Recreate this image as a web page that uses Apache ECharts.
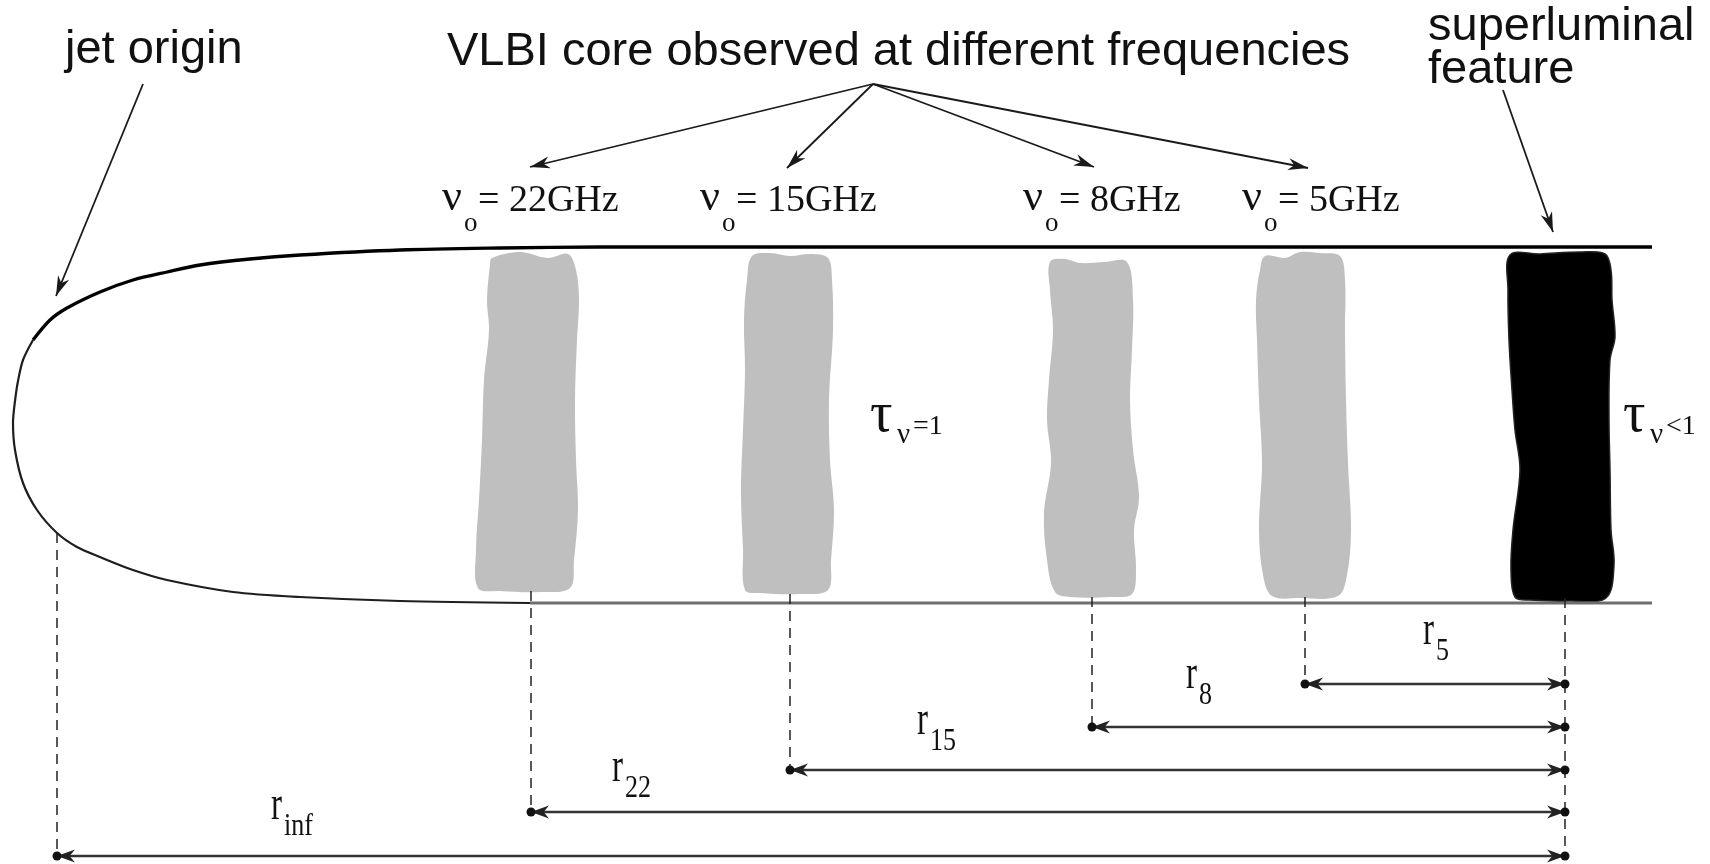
<!DOCTYPE html>
<html><head><meta charset="utf-8">
<script src="https://cdn.jsdelivr.net/npm/echarts@6/dist/echarts.min.js"></script>
<style>html,body{margin:0;padding:0;background:#fff;}#c{width:1710px;height:864px;}</style>
</head><body><div id="c"></div>
<script>
// ---------------- diagram data (diagram units = picture units) ----------------
const titleText = 'VLBI core observed at different frequencies';
const originText = 'jet origin';
const superText = ['superluminal', 'feature'];
const frequencies = ['22GHz', '15GHz', '8GHz', '5GHz'];
const coreX = [531, 790, 1092, 1305];          // VLBI core positions along the jet
const coreBottom = [591, 594, 597, 597];
const superX = 1565;                            // superluminal feature position
const superBottom = 598;
const originX = 57;                             // jet origin position
const originBottom = 533;
const distanceSub = ['5', '8', '15', '22', 'inf'];
const distanceFromX = [1305, 1092, 790, 531, 57];
const distanceRowY = [684, 727, 770, 812, 856];
const opacityLabels = ['=1', '<1'];
const opacityLabelX = [870, 1623];

// jet boundary
const jetNose = [[33,340],[23,360],[18,381],[15,401],[13,423],[15,450],[23,483],[37,510],[57,533],[77,547],[100,557],[133,570],[167,580],[233,592],[300,597],[400,601],[530,603]];
const jetTop = [[33,340],[50,320],[67,308],[100,292],[133,280],[167,272],[200,265],[250,259],[300,255],[400,250],[500,248],[600,247],[1652,247]];
const jetBottomStraight = [[530,603],[1652,603]];

// emission regions (outlines)
const blob22 = [[492,258],[520,252],[548,258],[568,254],[576,270],[579,300],[577,340],[575,400],[576,460],[578,510],[574,560],[570,588],[540,592],[500,591],[478,588],[476,550],[479,500],[482,440],[484,380],[489,330],[487,300],[490,265]];
const blob15 = [[752,256],[770,253],[790,256],[810,254],[828,258],[832,280],[833,330],[829,400],[830,460],[834,510],[831,560],[828,590],[800,594],[760,593],[745,590],[743,550],[741,490],[743,430],[745,370],[744,320],[747,280]];
const blob8 = [[1050,262],[1065,259],[1080,263],[1105,262],[1127,262],[1133,300],[1132,350],[1130,400],[1133,450],[1139,497],[1134,530],[1136,570],[1132,594],[1110,597],[1070,597],[1055,592],[1047,560],[1044,513],[1051,463],[1047,420],[1049,380],[1053,330],[1050,290]];
const blob5 = [[1265,256],[1285,258],[1300,252],[1320,253],[1340,256],[1345,280],[1345,330],[1346,400],[1348,463],[1351,530],[1347,575],[1338,596],[1300,598],[1272,596],[1263,575],[1259,530],[1262,463],[1259,400],[1257,340],[1256,300],[1260,270]];
const blobSuper = [[1510,255],[1540,254],[1580,252],[1605,254],[1611,270],[1612,300],[1615,337],[1610,360],[1609,420],[1610,470],[1611,530],[1614,565],[1606,598],[1570,601],[1530,600],[1515,597],[1511,570],[1513,530],[1520,470],[1515,430],[1512,390],[1509,340],[1508,290]];

// pointer arrows
const titlePointerFrom = [873, 84];
const freqPointerTo = [[530,167],[787,168],[1094,167],[1308,168]];
const originPointer = [[143,84],[56,296]];
const superPointer = [[1503,90],[1553,232]];

// ---------------- layout / style ----------------
const SANS = '"Liberation Sans", Arial, Helvetica, sans-serif';
const SERIF = '"Liberation Serif", "Times New Roman", Times, serif';
const BLOBS = [blob22, blob15, blob8, blob5, blobSuper];
const BLOB_FILL = ['#bfbfbf','#bfbfbf','#bfbfbf','#bfbfbf','#000000'];

function textEl(api, x, baseline, text, size, family, opt) {
  opt = opt || {};
  const sy = opt.sy || 1, sx = opt.sx || 1;
  const p = api.coord([x, baseline]);
  return {
    type: 'text', x: p[0], y: p[1] - 0.345 * size * sy,
    scaleX: sx, scaleY: sy, originX: 0, originY: 0,
    style: { text: text, fontSize: size, fontFamily: family, fill: opt.fill || '#111',
             align: 'left', verticalAlign: 'middle' }
  };
}

function arrowHead(p, q, len, half, color) {
  const dx = q[0]-p[0], dy = q[1]-p[1];
  const L = Math.sqrt(dx*dx+dy*dy) || 1;
  const ux = dx/L, uy = dy/L, nx = -uy, ny = ux;
  const bx = q[0]-ux*len, by = q[1]-uy*len;
  const ix = q[0]-ux*len*0.7, iy = q[1]-uy*len*0.7;
  return { type: 'polygon', shape: { points: [q, [bx+nx*half, by+ny*half], [ix, iy], [bx-nx*half, by-ny*half]] },
           style: { fill: color } };
}

// text items built from the named arrays
const textItems = [];
textItems.push({x: 65, b: 66, parts: [[0, 0, originText, 47, SANS]]});
textItems.push({x: 447, b: 68, parts: [[0, 0, titleText, 47, SANS]]});
textItems.push({x: 1428, b: 43, parts: [[0, 0, superText[0], 47, SANS]]});
textItems.push({x: 1428, b: 86, parts: [[0, 0, superText[1], 47, SANS]]});
const freqLabelX = [442, 700, 1023, 1242];
frequencies.forEach((f, i) => {
  textItems.push({x: freqLabelX[i], b: 214, parts: [
    [0, 0, '\u03bd', 44, SERIF], [22, 19, 'o', 27, SERIF], [36, 0, '= ' + f, 38, SERIF]]});
});
opacityLabels.forEach((l, i) => {
  textItems.push({x: opacityLabelX[i], b: 436, parts: [
    [0, 0, '\u03c4', 56, SERIF], [27, 9, '\u03bd', 29, SERIF], [43, 0, l, 28, SERIF]]});
});
const distanceLabelX = [1423, 1186, 917, 612, 271];
const distanceLabelB = [663, 707, 753, 800, 838];
distanceSub.forEach((s, i) => {
  textItems.push({x: distanceLabelX[i], b: distanceLabelB[i], parts: [
    [0, -15, 'r', 33, SERIF, {sy: 1.5}], [13, 0, s, 26, SERIF, {sy: 1.25}]]});
});

// segments
const dashed = [[originX, originBottom, distanceRowY[4]]];
coreX.forEach((x, i) => dashed.push([x, coreBottom[i], distanceRowY[3 - i]]));
dashed.push([superX, superBottom, distanceRowY[4]]);

const pointers = freqPointerTo.map(t => [titlePointerFrom, t]);
pointers.push(originPointer, superPointer);

const distances = distanceFromX.map((x, i) => [[x, distanceRowY[i]], [superX, distanceRowY[i]]]);

const chart = echarts.init(document.getElementById('c'));
chart.setOption({
  animation: false,
  backgroundColor: '#ffffff',
  grid: { left: 0, right: 0, top: 0, bottom: 0 },
  xAxis: { type: 'value', min: 0, max: 1710, show: false },
  yAxis: { type: 'value', min: 0, max: 864, inverse: true, show: false },
  series: [
    { type: 'custom', name: 'regions', z: 1,
      data: BLOBS.map((b, i) => [coreX.concat([superX])[i], 420]),
      renderItem: (params, api) => {
        const pts = BLOBS[params.dataIndex].map(p => api.coord(p));
        const black = params.dataIndex === 4;
        return { type: 'polygon', shape: { points: pts, smooth: 0.35 },
                 style: { fill: BLOB_FILL[params.dataIndex], stroke: black ? '#222' : null, lineWidth: black ? 1.5 : 0 } };
      } },
    { type: 'line', name: 'jetNose', data: jetNose, showSymbol: false, smooth: 0.3, z: 3,
      lineStyle: { color: '#1e1e1e', width: 2.2 } },
    { type: 'line', name: 'jetTop', data: jetTop, showSymbol: false, smooth: 0.3, z: 3,
      lineStyle: { color: '#000', width: 3.3 } },
    { type: 'line', name: 'jetBottom', data: jetBottomStraight, showSymbol: false, z: 3,
      lineStyle: { color: '#6e6e6e', width: 3 } },
    { type: 'custom', name: 'dashed', z: 4,
      data: dashed,
      renderItem: (params, api) => {
        const d = dashed[params.dataIndex];
        const a = api.coord([d[0], d[1]]), b = api.coord([d[0], d[2]]);
        return { type: 'line', shape: { x1: a[0], y1: a[1], x2: b[0], y2: b[1] },
                 style: { stroke: '#222', lineWidth: 1.5, lineDash: [10, 7] } };
      } },
    { type: 'custom', name: 'pointers', z: 5,
      data: pointers.map(p => p[1]),
      renderItem: (params, api) => {
        const s = pointers[params.dataIndex];
        const a = api.coord(s[0]), b = api.coord(s[1]);
        return { type: 'group', children: [
          { type: 'line', shape: { x1: a[0], y1: a[1], x2: b[0], y2: b[1] }, style: { stroke: '#1a1a1a', lineWidth: 1.8 } },
          arrowHead(a, b, 20, 6, '#1a1a1a') ] };
      } },
    { type: 'custom', name: 'distances', z: 5,
      data: distances.map(d => d[0]),
      renderItem: (params, api) => {
        const s = distances[params.dataIndex];
        const a = api.coord(s[0]), b = api.coord(s[1]);
        return { type: 'group', children: [
          { type: 'line', shape: { x1: a[0], y1: a[1], x2: b[0], y2: b[1] }, style: { stroke: '#333', lineWidth: 2.5 } },
          arrowHead(b, a, 18, 6.5, '#222'), arrowHead(a, b, 18, 6.5, '#222'),
          { type: 'circle', shape: { cx: a[0], cy: a[1], r: 4.5 }, style: { fill: '#111' } },
          { type: 'circle', shape: { cx: b[0], cy: b[1], r: 4.5 }, style: { fill: '#111' } } ] };
      } },
    { type: 'custom', name: 'texts', z: 6,
      data: textItems.map(t => [t.x, t.b]),
      renderItem: (params, api) => {
        const t = textItems[params.dataIndex];
        return { type: 'group', children: t.parts.map(pp =>
          textEl(api, t.x + pp[0], t.b + pp[1], pp[2], pp[3], pp[4], pp[5])) };
      } }
  ]
});
</script></body></html>
